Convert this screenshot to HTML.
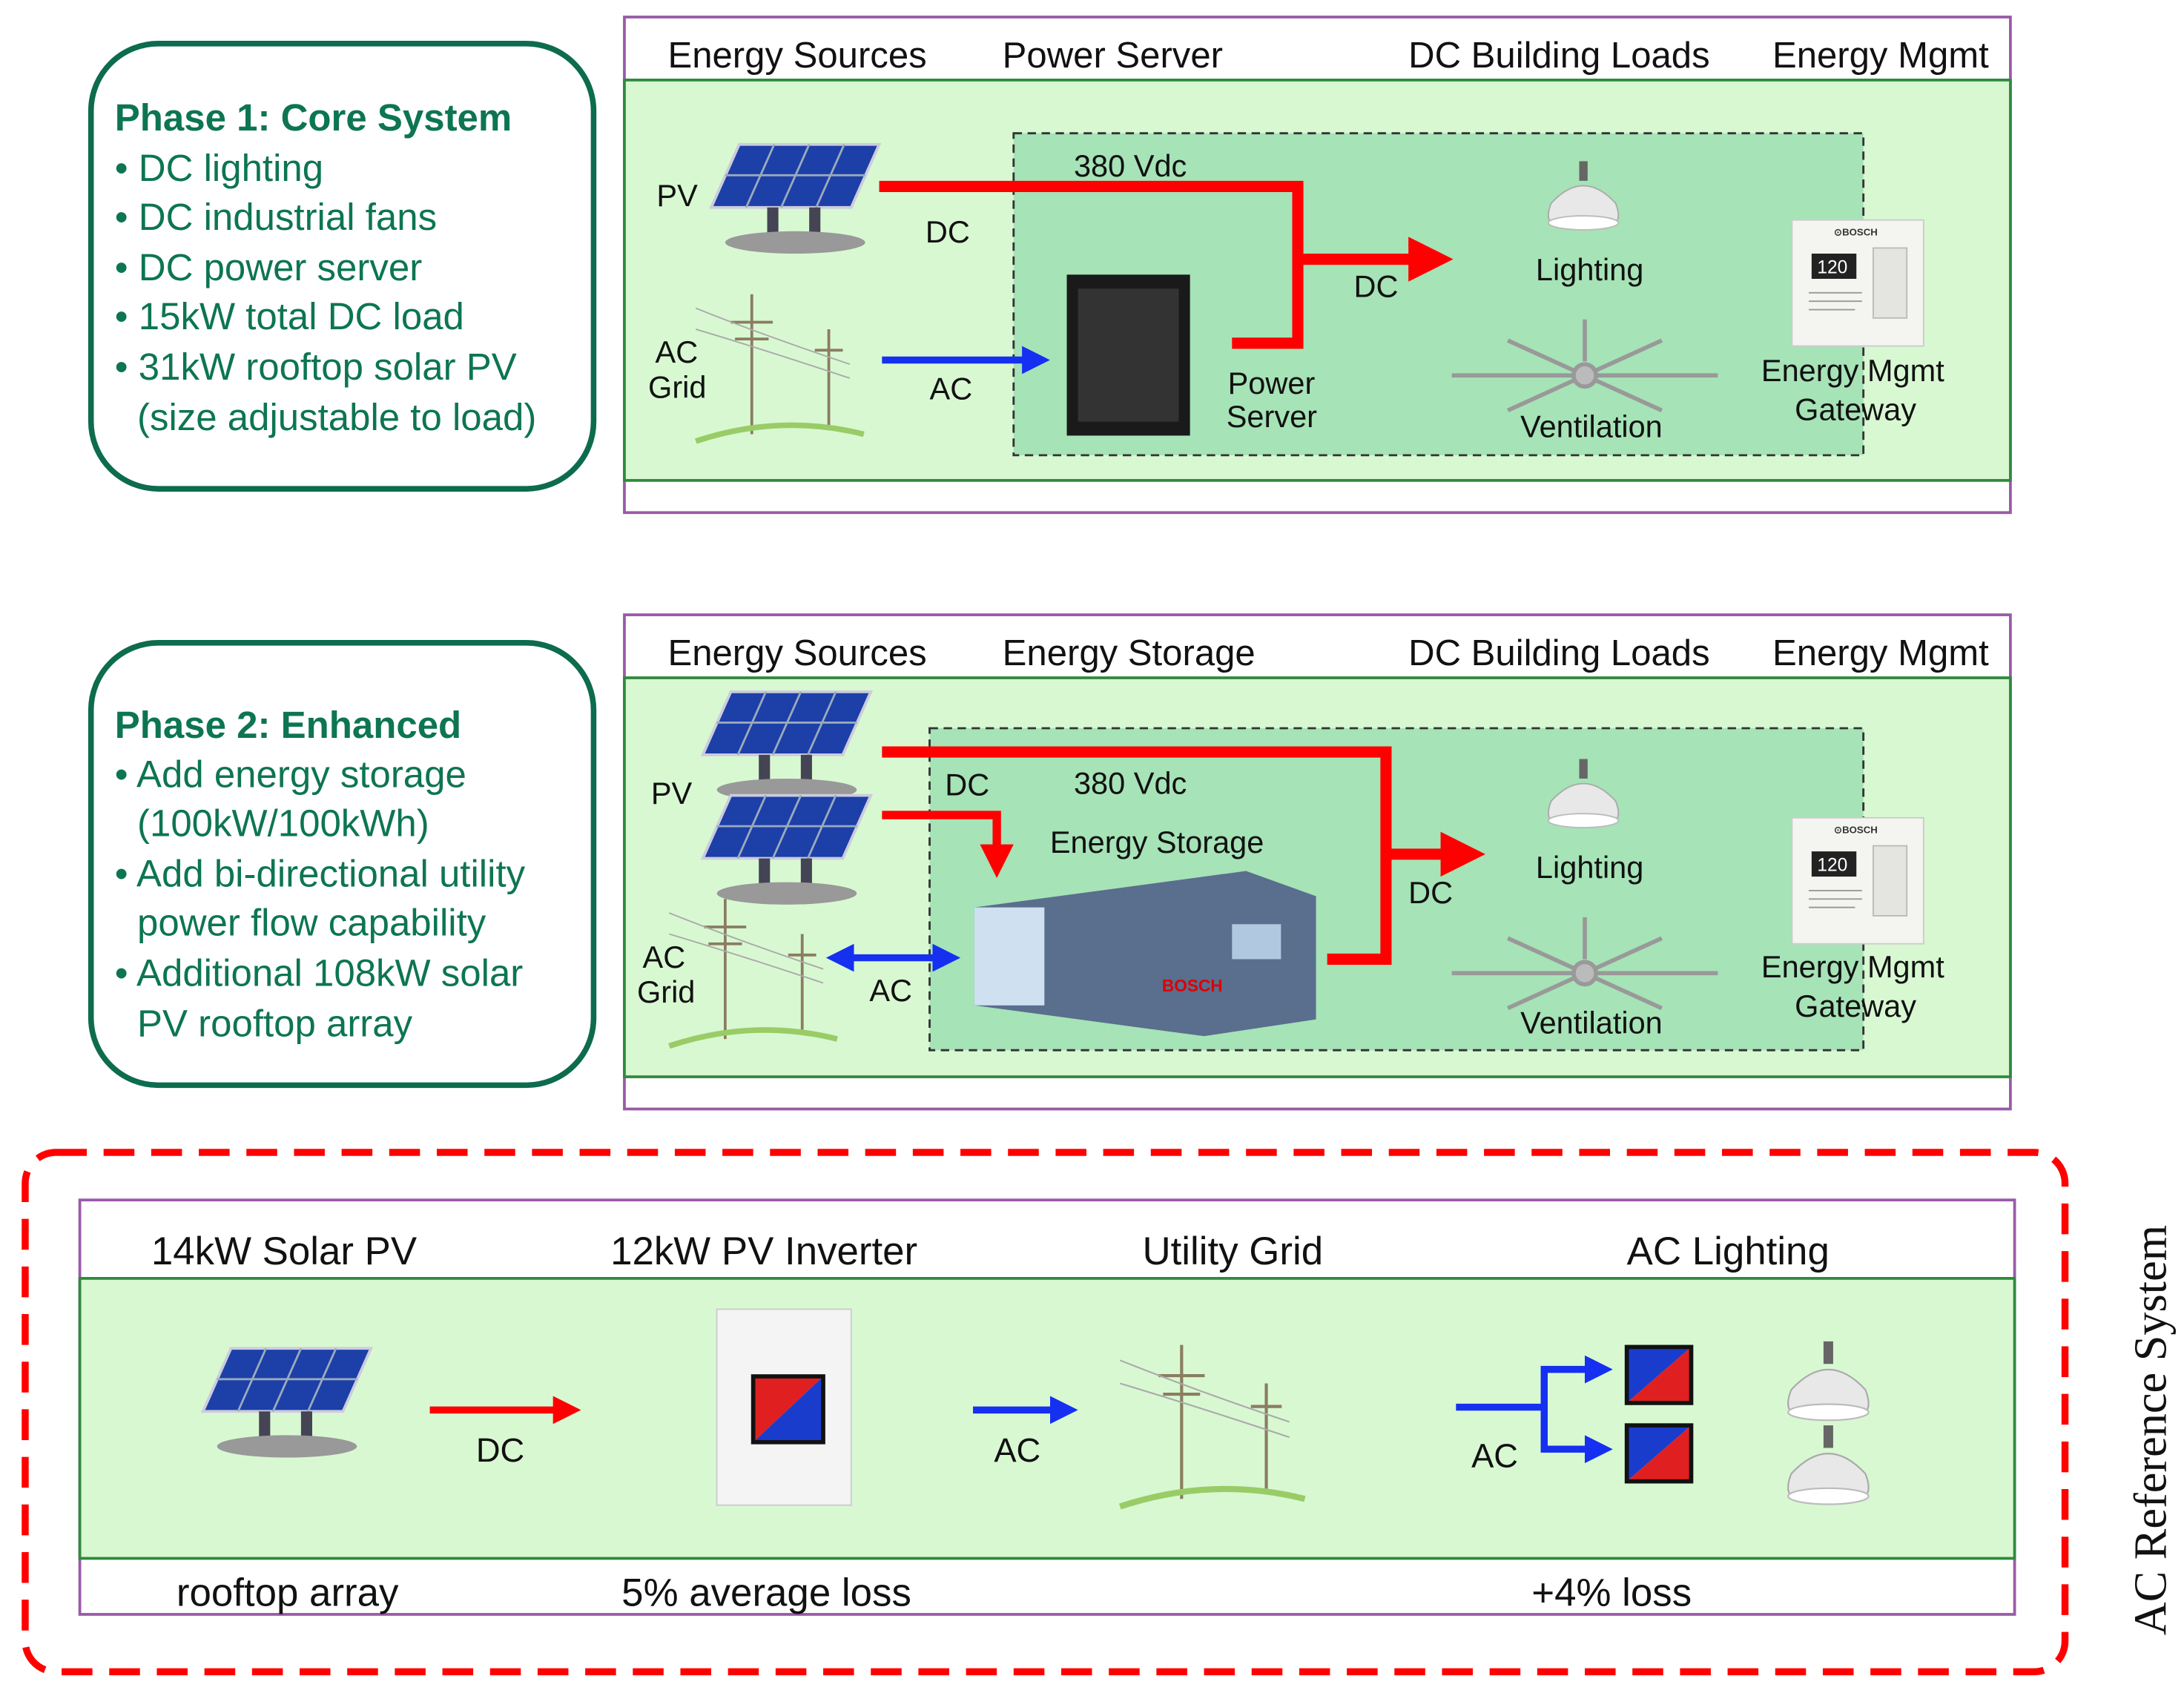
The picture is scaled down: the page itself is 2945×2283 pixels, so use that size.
<!DOCTYPE html>
<html><head><meta charset="utf-8"><style>
html,body{margin:0;padding:0;background:#fff;}
svg{display:block;}
text{font-family:"Liberation Sans",sans-serif;}
</style></head><body>
<svg width="2945" height="2283" viewBox="0 0 1560 1209" xmlns="http://www.w3.org/2000/svg">
<defs>
<marker id="ar" markerWidth="4" markerHeight="4" refX="2" refY="2" orient="auto" markerUnits="strokeWidth"><path d="M0,0 L4,2 L0,4 z" fill="#f00"/></marker>
<marker id="ab" markerWidth="4" markerHeight="4" refX="2" refY="2" orient="auto" markerUnits="strokeWidth"><path d="M0,0 L4,2 L0,4 z" fill="#1530f0"/></marker>
<marker id="abs" markerWidth="4" markerHeight="4" refX="2" refY="2" orient="auto-start-reverse" markerUnits="strokeWidth"><path d="M0,0 L4,2 L0,4 z" fill="#1530f0"/></marker>
<g id="pv">
<polygon points="20,0 120,0 100,45 0,45" fill="#1c3fa8" stroke="#ccd" stroke-width="2"/>
<line x1="45" y1="0" x2="25" y2="45" stroke="#9ab" stroke-width="1.5"/><line x1="70" y1="0" x2="50" y2="45" stroke="#9ab" stroke-width="1.5"/><line x1="95" y1="0" x2="75" y2="45" stroke="#9ab" stroke-width="1.5"/>
<line x1="10" y1="22" x2="110" y2="22" stroke="#9ab" stroke-width="1.5"/>
<rect x="40" y="45" width="8" height="22" fill="#445"/><rect x="70" y="45" width="8" height="22" fill="#445"/>
<ellipse cx="60" cy="70" rx="50" ry="8" fill="#999"/>
</g>
<g id="tower" stroke="#8a7d60" stroke-width="2" fill="none">
<line x1="40" y1="10" x2="40" y2="110"/><line x1="25" y1="30" x2="55" y2="30"/><line x1="28" y1="42" x2="52" y2="42"/>
<line x1="95" y1="35" x2="95" y2="105"/><line x1="85" y1="50" x2="105" y2="50"/>
<path d="M0,20 Q50,40 110,60 M0,35 Q50,50 110,70" stroke="#aaa" stroke-width="1"/>
<path d="M0,115 Q60,95 120,110" stroke="#9c6" stroke-width="4"/>
</g>
<g id="lamp">
<rect x="30" y="0" width="6" height="14" fill="#666"/>
<path d="M10,30 Q33,5 56,30 Q60,40 56,44 L10,44 Q6,40 10,30 z" fill="#e8e8e8" stroke="#aaa"/>
<ellipse cx="33" cy="44" rx="25" ry="5" fill="#fff" stroke="#bbb"/>
</g>
<g id="fan" stroke="#999" stroke-width="3">
<line x1="95" y1="0" x2="95" y2="30"/>
<line x1="0" y1="40" x2="190" y2="40"/><line x1="40" y1="65" x2="150" y2="15"/><line x1="40" y1="15" x2="150" y2="65"/>
<circle cx="95" cy="40" r="8" fill="#bbb"/>
</g>
<g id="gw">
<rect x="0" y="0" width="94" height="90" fill="#f4f4f0" stroke="#ccc"/>
<text x="30" y="11" font-size="7" font-weight="bold" fill="#333">⊙BOSCH</text>
<rect x="14" y="24" width="32" height="18" fill="#222"/><text x="18" y="38" font-size="13" fill="#fff">120</text>
<rect x="58" y="20" width="24" height="50" fill="#e4e4e0" stroke="#bbb"/>
<line x1="12" y1="52" x2="50" y2="52" stroke="#999"/><line x1="12" y1="58" x2="50" y2="58" stroke="#999"/><line x1="12" y1="64" x2="45" y2="64" stroke="#999"/>
</g>
</defs>

<rect x="65" y="31" width="359" height="318" rx="48" fill="#fff" stroke="#0d6b4e" stroke-width="4"/>
<g fill="#0d7552" font-size="27">
<text x="82" y="93" font-weight="bold">Phase 1: Core System</text>
<text x="82" y="129">• DC lighting</text>
<text x="82" y="164">• DC industrial fans</text>
<text x="82" y="200">• DC power server</text>
<text x="82" y="235">• 15kW total DC load</text>
<text x="82" y="271">• 31kW rooftop solar PV</text>
<text x="98" y="307">(size adjustable to load)</text>
</g>

<rect x="446" y="12" width="990" height="354" fill="#fff" stroke="#9a5aa8" stroke-width="2"/>
<rect x="446" y="57" width="990" height="286" fill="#d8f8d2" stroke="#2f8a3e" stroke-width="2"/>
<g font-size="26" fill="#111">
<text x="477" y="48">Energy Sources</text><text x="716" y="48">Power Server</text>
<text x="1006" y="48">DC Building Loads</text><text x="1266" y="48">Energy Mgmt</text>
</g>
<rect x="724" y="95" width="607" height="230" fill="#a6e3b7" stroke="#333" stroke-width="1.5" stroke-dasharray="6 4"/>
<use href="#pv" x="508" y="103"/>
<use href="#tower" x="497" y="200"/>
<rect x="762" y="196" width="88" height="115" fill="#1a1a1a"/>
<rect x="770" y="206" width="72" height="95" fill="#333"/>
<polyline points="628,133 927,133 927,245 880,245" fill="none" stroke="#f00" stroke-width="8"/>
<line x1="927" y1="185" x2="1022" y2="185" stroke="#f00" stroke-width="8" marker-end="url(#ar)"/>
<line x1="630" y1="257" x2="740" y2="257" stroke="#1530f0" stroke-width="5" marker-end="url(#ab)"/>
<use href="#lamp" x="1098" y="115"/>
<use href="#fan" x="1037" y="228"/>
<use href="#gw" x="1280" y="157"/>
<g font-size="22" fill="#111">
<text x="469" y="147">PV</text><text x="661" y="173">DC</text><text x="767" y="126">380 Vdc</text>
<text x="967" y="212">DC</text><text x="468" y="259">AC</text><text x="463" y="284">Grid</text>
<text x="664" y="285">AC</text><text x="877" y="281">Power</text><text x="876" y="305">Server</text>
<text x="1097" y="200">Lighting</text><text x="1086" y="312">Ventilation</text>
<text x="1258" y="272">Energy Mgmt</text><text x="1282" y="300">Gateway</text>
</g>

<rect x="65" y="459" width="359" height="316" rx="48" fill="#fff" stroke="#0d6b4e" stroke-width="4"/>
<g fill="#0d7552" font-size="27">
<text x="82" y="527" font-weight="bold">Phase 2: Enhanced</text>
<text x="82" y="562">• Add energy storage</text>
<text x="98" y="597">(100kW/100kWh)</text>
<text x="82" y="633">• Add bi-directional utility</text>
<text x="98" y="668">power flow capability</text>
<text x="82" y="704">• Additional 108kW solar</text>
<text x="98" y="740">PV rooftop array</text>
</g>

<rect x="446" y="439" width="990" height="353" fill="#fff" stroke="#9a5aa8" stroke-width="2"/>
<rect x="446" y="484" width="990" height="285" fill="#d8f8d2" stroke="#2f8a3e" stroke-width="2"/>
<g font-size="26" fill="#111">
<text x="477" y="475">Energy Sources</text><text x="716" y="475">Energy Storage</text>
<text x="1006" y="475">DC Building Loads</text><text x="1266" y="475">Energy Mgmt</text>
</g>
<rect x="664" y="520" width="667" height="230" fill="#a6e3b7" stroke="#333" stroke-width="1.5" stroke-dasharray="6 4"/>
<use href="#pv" x="502" y="494"/>
<use href="#pv" x="502" y="568"/>
<use href="#tower" x="478" y="632"/>
<polygon points="696,648 890,622 940,640 940,728 860,740 696,718" fill="#5a6e8e"/>
<rect x="696" y="648" width="50" height="70" fill="#cfe0f0"/>
<rect x="880" y="660" width="35" height="25" fill="#b0c8e0"/>
<text x="830" y="708" font-size="12" font-weight="bold" fill="#d00">BOSCH</text>
<polyline points="630,537 990,537 990,685 948,685" fill="none" stroke="#f00" stroke-width="8"/>
<line x1="990" y1="610" x2="1045" y2="610" stroke="#f00" stroke-width="8" marker-end="url(#ar)"/>
<polyline points="630,582 712,582 712,615" fill="none" stroke="#f00" stroke-width="6" marker-end="url(#ar)"/>
<line x1="600" y1="684" x2="676" y2="684" stroke="#1530f0" stroke-width="5" marker-start="url(#abs)" marker-end="url(#abs)"/>
<use href="#lamp" x="1098" y="542"/>
<use href="#fan" x="1037" y="655"/>
<use href="#gw" x="1280" y="584"/>
<g font-size="22" fill="#111">
<text x="465" y="574">PV</text><text x="675" y="568">DC</text><text x="767" y="567">380 Vdc</text>
<text x="750" y="609">Energy Storage</text><text x="1006" y="645">DC</text>
<text x="459" y="691">AC</text><text x="455" y="716">Grid</text><text x="621" y="715">AC</text>
<text x="1097" y="627">Lighting</text><text x="1086" y="738">Ventilation</text>
<text x="1258" y="698">Energy Mgmt</text><text x="1282" y="726">Gateway</text>
</g>

<rect x="18" y="823" width="1457" height="371" rx="22" fill="none" stroke="#f00" stroke-width="5" stroke-dasharray="22 12"/>
<rect x="57" y="857" width="1382" height="296" fill="#fff" stroke="#9a5aa8" stroke-width="2"/>
<rect x="57" y="913" width="1382" height="200" fill="#d8f8d2" stroke="#2f8a3e" stroke-width="2"/>
<g font-size="28" fill="#111">
<text x="108" y="903">14kW Solar PV</text><text x="436" y="903">12kW PV Inverter</text>
<text x="816" y="903">Utility Grid</text><text x="1162" y="903">AC Lighting</text>
<text x="126" y="1147">rooftop array</text><text x="444" y="1147">5% average loss</text>
<text x="1094" y="1147">+4% loss</text>
</g>
<use href="#pv" x="145" y="963"/>
<line x1="307" y1="1007" x2="405" y2="1007" stroke="#f00" stroke-width="5" marker-end="url(#ar)"/>
<rect x="512" y="935" width="96" height="140" fill="#f4f4f4" stroke="#ccc"/>
<polygon points="538,983 588,983 538,1030" fill="#e02020"/><polygon points="588,983 588,1030 538,1030" fill="#1a3ccc"/>
<rect x="538" y="983" width="50" height="47" fill="none" stroke="#111" stroke-width="3"/>
<line x1="695" y1="1007" x2="760" y2="1007" stroke="#1530f0" stroke-width="5" marker-end="url(#ab)"/>
<use href="#tower" x="800" y="945" transform="translate(-80,-90) scale(1.1)"/>
<polyline points="1040,1005 1103,1005 1103,978 1142,978" fill="none" stroke="#1530f0" stroke-width="5" marker-end="url(#ab)"/>
<polyline points="1103,1005 1103,1035 1142,1035" fill="none" stroke="#1530f0" stroke-width="5" marker-end="url(#ab)"/>
<g>
<polygon points="1162,962 1208,962 1162,1002" fill="#1a3ccc"/><polygon points="1208,962 1208,1002 1162,1002" fill="#e02020"/>
<rect x="1162" y="962" width="46" height="40" fill="none" stroke="#111" stroke-width="3"/>
<polygon points="1162,1018 1208,1018 1162,1058" fill="#1a3ccc"/><polygon points="1208,1018 1208,1058 1162,1058" fill="#e02020"/>
<rect x="1162" y="1018" width="46" height="40" fill="none" stroke="#111" stroke-width="3"/>
</g>
<use href="#lamp" x="1268" y="958" transform="translate(1268,958) scale(1.15) translate(-1268,-958)"/>
<use href="#lamp" x="1268" y="1018" transform="translate(1268,1018) scale(1.15) translate(-1268,-1018)"/>
<g font-size="24" fill="#111"><text x="340" y="1044">DC</text><text x="710" y="1044">AC</text><text x="1051" y="1048">AC</text></g>
<text transform="translate(1547,1168) rotate(-90)" style="font-family:'Liberation Serif',serif;font-size:33px" fill="#111">AC Reference System</text>
</svg>
</body></html>
